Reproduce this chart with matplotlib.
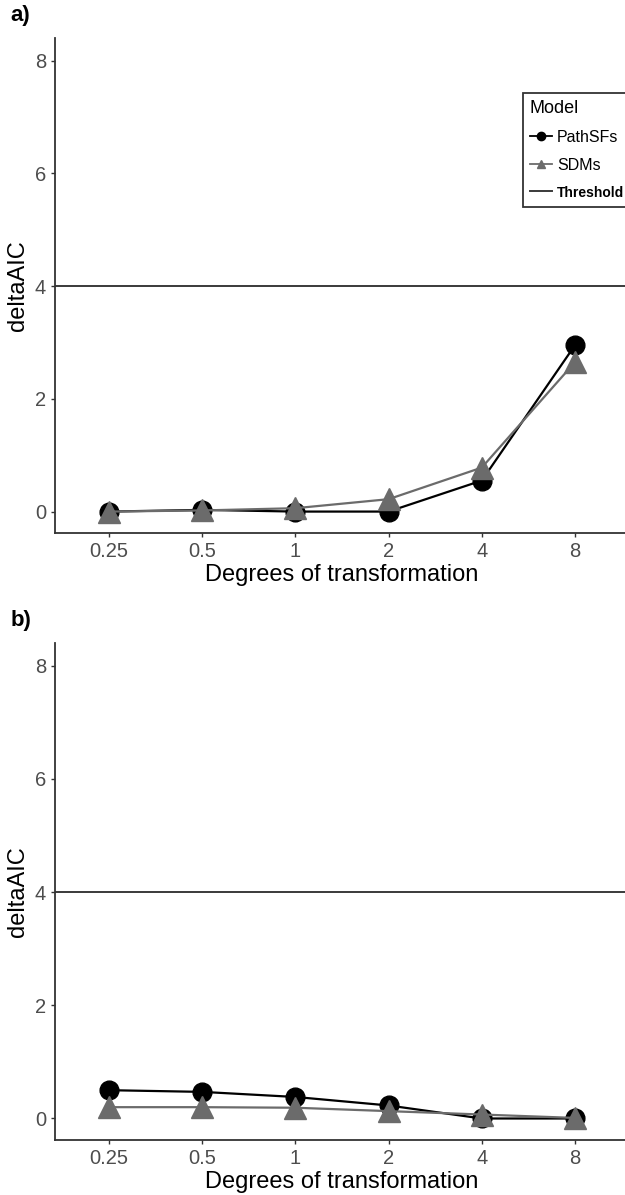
import matplotlib
matplotlib.use("Agg")
import matplotlib.pyplot as plt
from matplotlib.lines import Line2D

plt.rcParams['font.family'] = ['Liberation Sans', 'DejaVu Sans']

degrees = ['0.25', '0.5', '1', '2', '4', '8']
yticks = [0, 2, 4, 6, 8]
threshold = 4

# panel a
a_pathsfs = [0.0, 0.03, 0.0, 0.0, 0.55, 2.95]
a_sdms = [0.0, 0.02, 0.06, 0.22, 0.78, 2.65]
# panel b
b_pathsfs = [0.50, 0.47, 0.38, 0.23, 0.0, 0.0]
b_sdms = [0.20, 0.20, 0.19, 0.13, 0.07, 0.01]

W, H = 625, 1195
fig = plt.figure(figsize=(W / 100, H / 100), dpi=100)

def px_axes(left, right, top, bottom):
    return fig.add_axes([left / W, (H - bottom) / H, (right - left) / W, (bottom - top) / H])

def panel(ax, pathsfs, sdms, label, legend=False):
    x = list(range(len(degrees)))
    ax.axhline(threshold, color='#3a3a3a', lw=1.4, zorder=1)
    ax.plot(x, pathsfs, color='black', lw=1.6, marker='o', ms=13.5, zorder=3)
    ax.plot(x, sdms, color='#6b6b6b', lw=1.6, marker='^', ms=15.5, zorder=4)
    ax.set_xlim(-0.58, 5.58)
    ax.set_ylim(-0.38, 8.4)
    ax.set_xticks(x)
    ax.set_xticklabels(degrees)
    ax.set_yticks(yticks)
    for s in ['top', 'right']:
        ax.spines[s].set_visible(False)
    for s in ['left', 'bottom']:
        ax.spines[s].set_color('#333333')
        ax.spines[s].set_linewidth(1.3)
    ax.tick_params(colors='#333333', labelcolor='#4d4d4d', labelsize=14.5, length=3, width=1)
    ax.set_xlabel('Degrees of transformation', fontsize=17, labelpad=2)
    ax.set_ylabel('deltaAIC', fontsize=17, labelpad=4)
    ax.text(-0.06, 1.025, label, transform=ax.transAxes, fontsize=16, fontweight='bold',
            ha='center', va='bottom')
    if legend:
        handles = [
            Line2D([], [], color='black', lw=1.3, marker='o', ms=6),
            Line2D([], [], color='#6b6b6b', lw=1.3, marker='^', ms=6),
            Line2D([], [], color='#3a3a3a', lw=1.4),
        ]
        leg = ax.legend(handles, ['PathSFs', 'SDMs', 'Threshold'], title='Model',
                        loc='upper left', bbox_to_anchor=(0.815, 0.889), borderaxespad=0,
                        fontsize=11.5, title_fontsize=13, handlelength=1.4, handletextpad=0.3,
                        labelspacing=0.8, fancybox=False, edgecolor='#333333',
                        framealpha=1, alignment='left', borderpad=0.45)
        leg.get_frame().set_linewidth(1.3)
        leg.get_texts()[2].set_fontweight('bold')
        leg.get_texts()[2].set_fontsize(10)

ax1 = px_axes(55, 629, 38, 533)
panel(ax1, a_pathsfs, a_sdms, 'a)', legend=True)
ax2 = px_axes(55, 629, 643, 1140)
panel(ax2, b_pathsfs, b_sdms, 'b)')

fig.savefig('out.png', dpi=100)
